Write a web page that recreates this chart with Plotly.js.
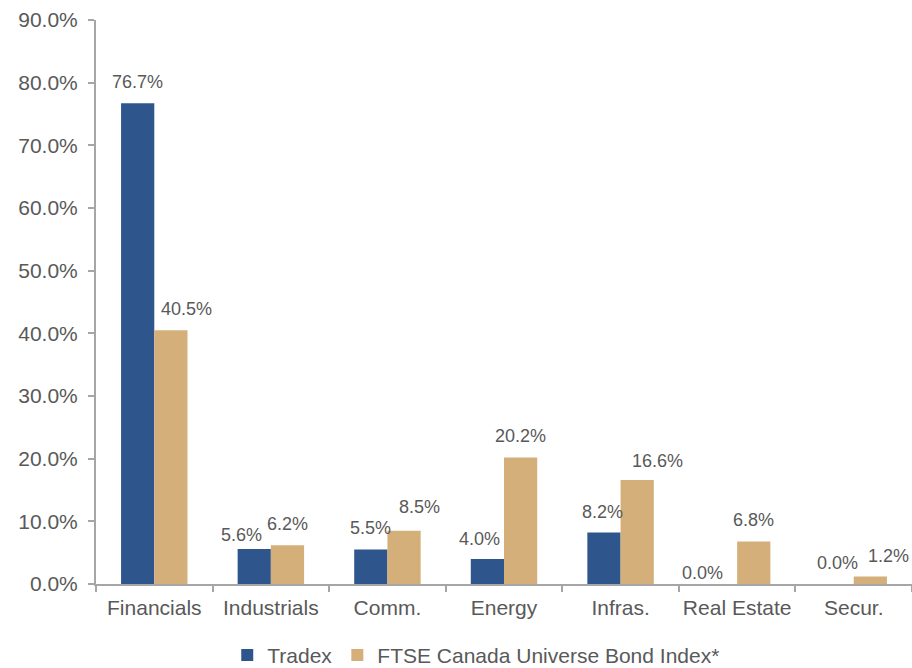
<!DOCTYPE html>
<html>
<head>
<meta charset="utf-8">
<script src="https://cdn.plot.ly/plotly-3.0.1.min.js"></script>
<style>html,body{margin:0;padding:0;background:#fff;}#chart{width:912px;height:668px;}</style>
</head>
<body>
<div id="chart"></div>
<script>
// ---- data ----
const categories = ["Financials", "Industrials", "Comm.", "Energy", "Infras.", "Real Estate", "Secur."];
const tradex = [76.7, 5.6, 5.5, 4.0, 8.2, 0.0, 0.0];
const ftse = [40.5, 6.2, 8.5, 20.2, 16.6, 6.8, 1.2];
const seriesNames = ["Tradex", "FTSE Canada Universe Bond Index*"];
const yTicks = [0, 10, 20, 30, 40, 50, 60, 70, 80, 90];
const yTickText = yTicks.map(v => v.toFixed(1) + "%");

// ---- style ----
const font = "Liberation Sans, Arial, sans-serif";
const txtColor = "#595959";
const axisColor = "#a6a6a6";
const colors = ["#2F568C", "#D4AF7A"];
const W = 912, H = 668;
const margin = {l: 96, r: 0, t: 20, b: 84};
const bargap = 0.43;
// label nudges (px) as placed in the original chart: [dx, dy]
const labelNudge = [
  [[0, 0], [-13, -7], [0, 1], [-8, -1], [-1, 0], [-18, -10], [0, 0]],
  [[16, 0], [0, 0], [15, 3], [0, 0], [20, -2], [0, 0], [18, -1]]
];

const series = [tradex, ftse];
const traces = series.map((vals, i) => ({
  type: "bar", name: seriesNames[i], x: categories, y: vals,
  marker: {color: colors[i]}, hoverinfo: "skip"
}));

// bar centre offset within a category, derived from the plot geometry
const catWidth = (W - margin.l - margin.r) / categories.length;
const barWidth = catWidth * (1 - bargap) / series.length;
const annotations = [];
series.forEach((vals, i) => {
  const off = (i - (series.length - 1) / 2) * barWidth;
  vals.forEach((v, j) => {
    annotations.push({
      x: categories[j], y: v, xref: "x", yref: "y",
      text: v.toFixed(1) + "%", showarrow: false,
      xanchor: "center", yanchor: "bottom",
      xshift: off + labelNudge[i][j][0], yshift: 9 + labelNudge[i][j][1],
      font: {family: font, size: 18, color: txtColor}
    });
  });
});

const layout = {
  width: W, height: H,
  margin: Object.assign({autoexpand: false}, margin),
  paper_bgcolor: "#fff", plot_bgcolor: "#fff",
  font: {family: font, color: txtColor, size: 21},
  barmode: "group", bargap: bargap, bargroupgap: 0,
  showlegend: true,
  legend: {
    orientation: "h", x: 0.466, xanchor: "center",
    y: -0.09, yanchor: "top",
    font: {family: font, size: 21, color: txtColor},
    traceorder: "normal"
  },
  annotations: annotations,
  xaxis: {
    type: "category", showline: true, linecolor: axisColor, linewidth: 2,
    ticks: "outside", tickson: "boundaries", ticklen: 6, tickcolor: axisColor, tickwidth: 2,
    tickangle: 0, ticklabelstandoff: 4,
    tickfont: {family: font, size: 21, color: txtColor},
    showgrid: false, zeroline: false, fixedrange: true
  },
  yaxis: {
    range: [0, 90], tickvals: yTicks, ticktext: yTickText,
    showline: true, linecolor: axisColor, linewidth: 2,
    ticks: "outside", ticklen: 6, tickcolor: axisColor, tickwidth: 2,
    ticklabelstandoff: 6,
    tickfont: {family: font, size: 21, color: txtColor},
    showgrid: false, zeroline: false, fixedrange: true
  }
};

Plotly.newPlot("chart", traces, layout, {displayModeBar: false, staticPlot: true});
</script>
</body>
</html>
